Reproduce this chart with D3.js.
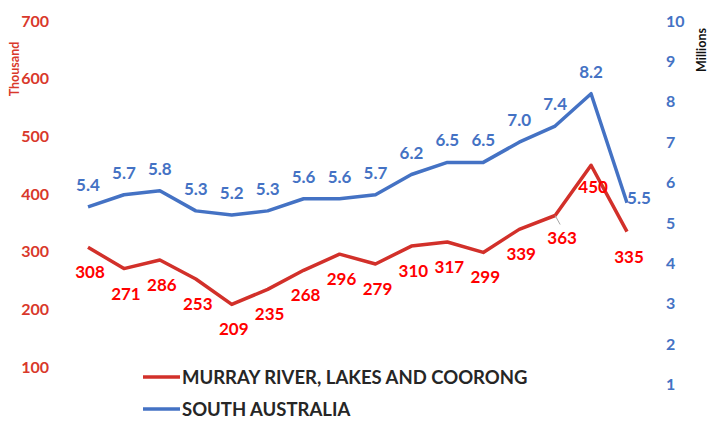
<!DOCTYPE html>
<html>
<head>
<meta charset="utf-8">
<script src="https://cdn.jsdelivr.net/npm/d3@7"></script>
<style>
  body { margin: 0; background: #fff; }
  svg { font-family: Lato, "Open Sans", sans-serif; font-weight: bold; }
</style>
</head>
<body>
<div id="chart"></div>
<script>
var years = d3.range(16)
var murray = [308, 271, 286, 253, 209, 235, 268, 296, 279, 310, 317, 299, 339, 363, 450, 335]
var southAus = [5.4, 5.7, 5.8, 5.3, 5.2, 5.3, 5.6, 5.6, 5.7, 6.2, 6.5, 6.5, 7.0, 7.4, 8.2, 5.5]
var leftTicks = [100, 200, 300, 400, 500, 600, 700]
var rightTicks = [1, 2, 3, 4, 5, 6, 7, 8, 9, 10]
var seriesNames = ["MURRAY RIVER, LAKES AND COORONG", "SOUTH AUSTRALIA"]

var width = 721, height = 421
var red_line = "#d2302a", red_label = "#ff0000", red_axis = "#d9382b",
    blue = "#4472c4"

var svg = d3.select("#chart").append("svg")
  .attr("width", width)
  .attr("height", height)

var x = d3.scalePoint().domain(years).range([88, 627])
var yLeft = d3.scaleLinear().domain([0, 700]).range([425, 21])
var yRight = d3.scaleLinear().domain([0, 10]).range([425, 21])

// Axes, no lines, only labels
var leftAxis = svg.append("g")
  .attr("transform", "translate(49,0)")
  .call(d3.axisLeft(yLeft).tickValues(leftTicks).tickSize(0).tickPadding(0))
leftAxis.select(".domain").remove()
leftAxis.selectAll("text")
  .attr("fill", red_axis)
  .style("font-size", "16px")
  .style("font-family", "Lato, 'Open Sans', sans-serif")
  .style("font-weight", "bold")

var rightAxis = svg.append("g")
  .attr("transform", "translate(666,0)")
  .call(d3.axisRight(yRight).tickValues(rightTicks).tickSize(0).tickPadding(0))
rightAxis.select(".domain").remove()
rightAxis.selectAll("text")
  .attr("fill", blue)
  .style("font-size", "16px")
  .style("font-family", "Lato, 'Open Sans', sans-serif")
  .style("font-weight", "bold")

svg.append("text")
  .attr("transform", "translate(19,69) rotate(-90)")
  .attr("text-anchor", "middle")
  .attr("fill", red_axis)
  .style("font-size", "12.5px")
  .text("Thousand")

svg.append("text")
  .attr("transform", "translate(706,50) rotate(-90)")
  .attr("text-anchor", "middle")
  .attr("fill", "#111")
  .style("font-size", "12.5px")
  .text("Millions")

// Lines
var redLine = d3.line().x(function (d, i) { return x(i) }).y(function (d) { return yLeft(d) })
var blueLine = d3.line().x(function (d, i) { return x(i) }).y(function (d) { return yRight(d) })

svg.append("path")
  .datum(southAus)
  .attr("d", blueLine)
  .attr("fill", "none")
  .attr("stroke", blue)
  .attr("stroke-width", 3.5)
  .attr("stroke-linejoin", "round")

svg.append("path")
  .datum(murray)
  .attr("d", redLine)
  .attr("fill", "none")
  .attr("stroke", red_line)
  .attr("stroke-width", 3.5)
  .attr("stroke-linejoin", "round")

// Leader line for 363
svg.append("line")
  .attr("x1", x(13)).attr("y1", yLeft(363))
  .attr("x2", x(13) + 5).attr("y2", yLeft(363) + 9)
  .attr("stroke", "#a6a6a6").attr("stroke-width", 1)

// Data labels
svg.selectAll("text.blue-label")
  .data(southAus)
  .enter().append("text")
  .attr("class", "blue-label")
  .attr("x", function (d, i) { return i == 15 ? x(i) + 12 : x(i) })
  .attr("y", function (d, i) { return i == 15 ? yRight(d) + 1 : yRight(d) - 16 })
  .attr("text-anchor", "middle")
  .attr("fill", blue)
  .style("font-size", "17px")
  .text(function (d) { return d.toFixed(1) })

svg.selectAll("text.red-label")
  .data(murray)
  .enter().append("text")
  .attr("class", "red-label")
  .attr("x", function (d, i) { return i == 13 ? x(i) + 7 : x(i) + 2 })
  .attr("y", function (d, i) { return yLeft(d) + 31 - (i == 14 ? 3 : 0) - (i == 13 ? 2 : 0) })
  .attr("text-anchor", "middle")
  .attr("fill", red_label)
  .style("font-size", "17px")
  .text(function (d) { return d })

// Legend
var legend = svg.selectAll("g.legend")
  .data(seriesNames)
  .enter().append("g")
  .attr("class", "legend")
  .attr("transform", function (d, i) { return "translate(143," + (377 + i * 32) + ")" })
legend.append("line")
  .attr("x1", 0).attr("x2", 37).attr("y1", 0).attr("y2", 0)
  .attr("stroke", function (d, i) { return i == 0 ? red_line : blue })
  .attr("stroke-width", 3.5)
legend.append("text")
  .attr("x", 39)
  .attr("y", 7)
  .attr("fill", "#262626")
  .style("font-size", "18.5px")
  .text(function (d) { return d })
</script>
</body>
</html>
